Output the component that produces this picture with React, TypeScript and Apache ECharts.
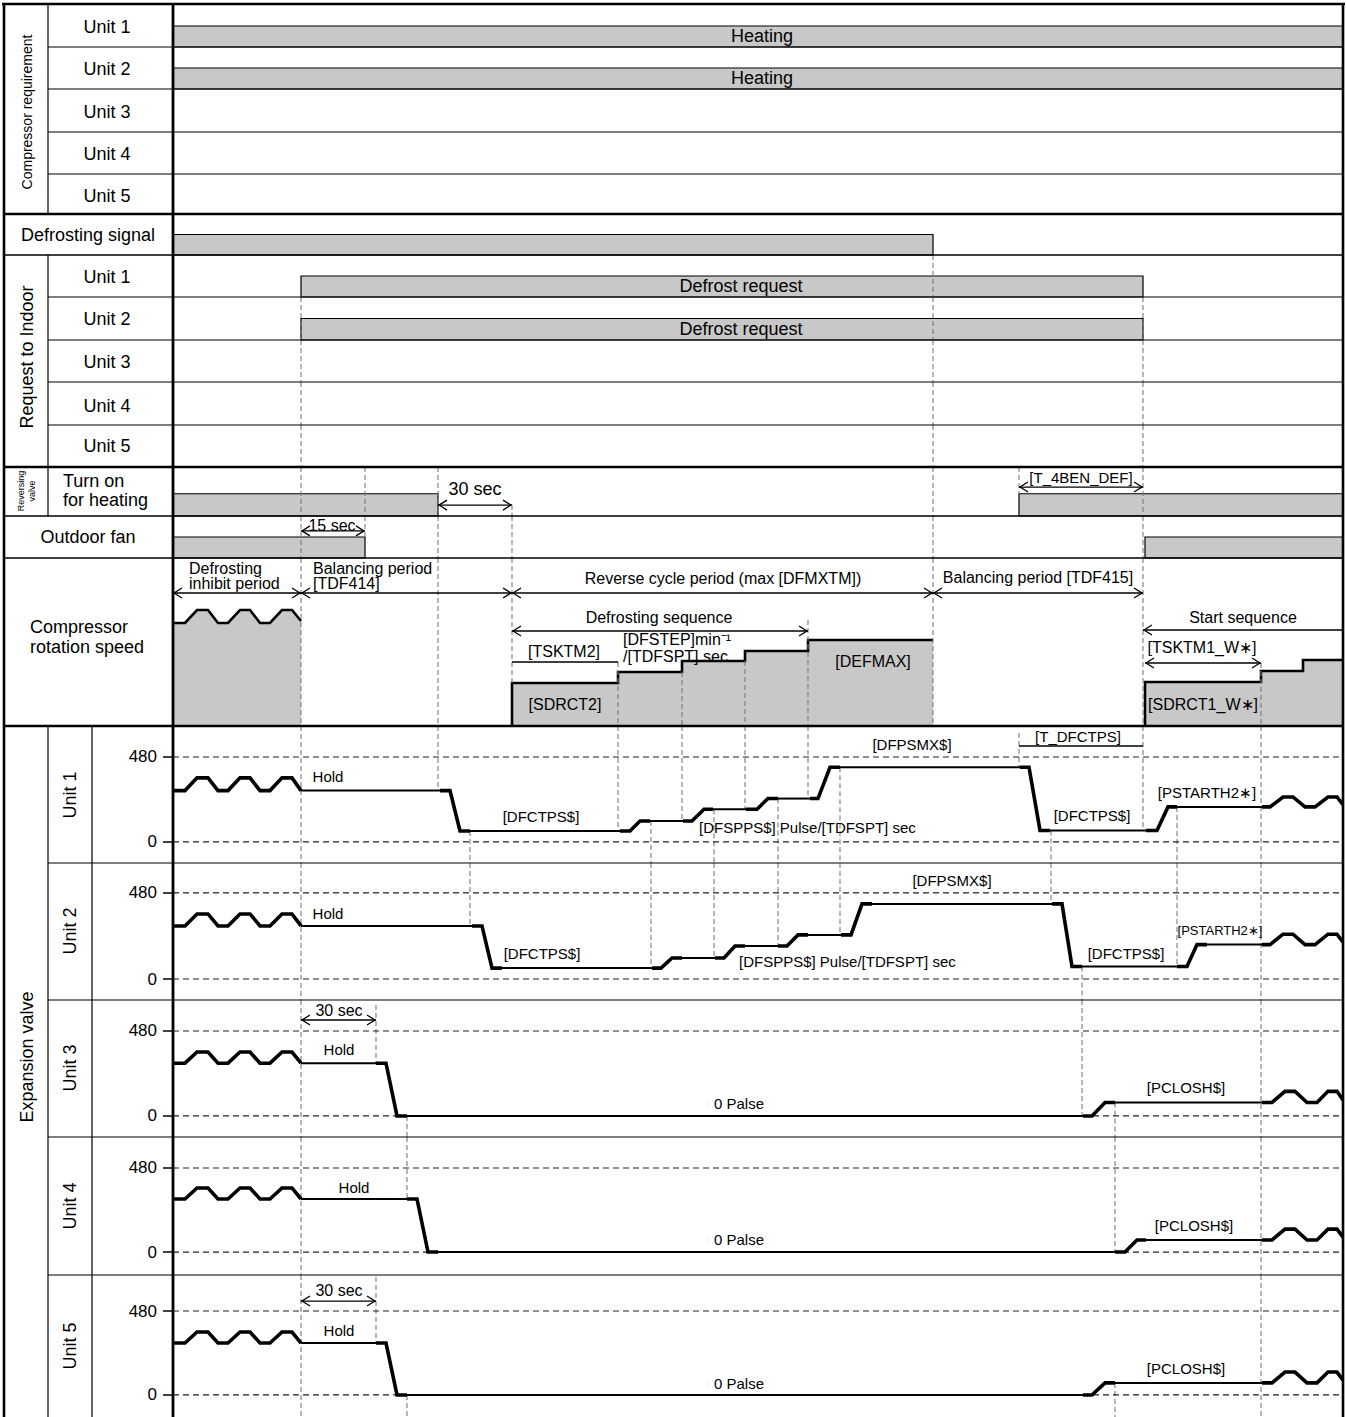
import React, { useEffect, useRef } from "react";
import * as echarts from "echarts";

const W = 1346;
const H = 1417;
const FONT = "'Liberation Sans', Arial, Helvetica, sans-serif";
const T_END = 1170;
const EV_TICKS = [0, 480];
const ON = 1;

// ---------------- on/off signals (start, end) along the common time axis ----------------
const HEATING_UNIT1 = [0, 1170];
const HEATING_UNIT2 = [0, 1170];
const DEFROST_SIGNAL = [0, 760];
const DEFROST_REQUEST_UNIT1 = [128, 970];
const DEFROST_REQUEST_UNIT2 = [128, 970];
const REVERSING_VALVE = [
  [0, 265],
  [846, 1170],
];
const OUTDOOR_FAN = [
  [0, 192],
  [972, 1170],
];

// ---------------- compressor rotation speed (relative units) ----------------
const CS_WAVE_T = [0, 12, 24, 35, 45, 55, 67, 77, 87, 97, 109, 119, 128];
const CS_WAVE_V = [103, 103, 116, 116, 103, 103, 116, 116, 103, 103, 116, 116, 105];
const CS_DEFROST_T = [339, 339, 445, 445, 509, 509, 572, 572, 635, 635, 760];
const CS_DEFROST_V = [0, 43, 43, 54, 54, 65, 65, 75, 75, 86, 86];
const CS_START_T = [972, 972, 1088, 1088, 1130, 1130, 1170];
const CS_START_V = [0, 44, 44, 55, 55, 66, 66];

// ---------------- expansion valve pulses ----------------
const EV1_T = [0, 12, 24, 35, 45, 55, 67, 77, 87, 97, 109, 119, 128, 267, 277, 287, 297, 447, 457, 467, 477, 510, 519, 531, 540, 573, 584, 595, 605, 637, 645, 657, 667, 847, 856, 867, 877, 973, 984, 995, 1004, 1089, 1097, 1110, 1120, 1132, 1142, 1155, 1164, 1170];
const EV1_V = [290, 290, 362, 362, 290, 290, 362, 362, 290, 290, 362, 362, 290, 290, 290, 62, 62, 62, 62, 118, 118, 118, 118, 185, 185, 185, 185, 245, 245, 245, 245, 422, 422, 422, 422, 65, 65, 65, 65, 198, 198, 198, 198, 254, 254, 198, 198, 254, 254, 210];
const EV1_THIN = [12, 16, 20, 24, 28, 32, 36, 40];

const EV2_T = [0, 12, 24, 35, 45, 55, 67, 77, 87, 97, 109, 119, 128, 299, 309, 319, 329, 479, 488, 499, 509, 542, 551, 562, 572, 605, 614, 625, 635, 668, 678, 689, 699, 879, 889, 899, 909, 1004, 1014, 1024, 1034, 1089, 1097, 1110, 1120, 1132, 1142, 1155, 1164, 1170];
const EV2_V = [296, 296, 363, 363, 296, 296, 363, 363, 296, 296, 363, 363, 296, 296, 296, 61, 61, 61, 61, 117, 117, 117, 117, 184, 184, 184, 184, 246, 246, 246, 246, 419, 419, 419, 419, 70, 70, 70, 70, 192, 192, 192, 192, 250, 250, 192, 192, 250, 250, 205];
const EV2_THIN = [12, 16, 20, 24, 28, 32, 36, 40];

const EV3_T = [0, 12, 24, 35, 45, 55, 67, 77, 87, 97, 109, 119, 128, 203, 213, 224, 234, 910, 919, 932, 942, 1089, 1099, 1112, 1122, 1134, 1144, 1155, 1164, 1170];
const EV3_V = [298, 298, 361, 361, 298, 298, 361, 361, 298, 298, 361, 361, 298, 298, 298, 0, 0, 0, 0, 76, 76, 76, 76, 139, 139, 76, 76, 139, 139, 90];
const EV3_THIN = [12, 16, 20];

const EV4_T = [0, 12, 24, 35, 45, 55, 67, 77, 87, 97, 109, 119, 128, 234, 244, 255, 265, 942, 952, 964, 973, 1089, 1099, 1112, 1122, 1134, 1144, 1155, 1164, 1170];
const EV4_V = [303, 303, 366, 366, 303, 303, 366, 366, 303, 303, 366, 366, 303, 303, 303, 0, 0, 0, 0, 69, 69, 69, 69, 131, 131, 69, 69, 131, 131, 85];
const EV4_THIN = [12, 16, 20];

const EV5_T = [0, 12, 24, 35, 45, 55, 67, 77, 87, 97, 109, 119, 128, 203, 213, 224, 234, 910, 919, 932, 942, 1089, 1099, 1112, 1122, 1134, 1144, 1155, 1164, 1170];
const EV5_V = [297, 297, 360, 360, 297, 297, 360, 360, 297, 297, 360, 360, 297, 297, 297, 0, 0, 0, 0, 69, 69, 69, 69, 131, 131, 69, 69, 131, 131, 85];
const EV5_THIN = [12, 16, 20];

// ---------------- vertical guides: [time, fromRow, fromValue, toRow, toValue] ----------------
const GUIDES: [number, string, number | null, string, number | null][] = [
  [128, "RI1", 0, "EV5", null],
  [192, "RV", null, "OF", 1],
  [265, "RV", null, "EV1", 290],
  [339, "RV", 0.5, "CS", 43],
  [297, "EV1", 62, "EV2", 296],
  [445, "CS", 64, "EV1", 62],
  [478, "EV1", 118, "EV2", 61],
  [509, "CS", 54, "EV1", 118],
  [541, "EV1", 185, "EV2", 117],
  [572, "CS", 65, "EV1", 185],
  [605, "EV1", 245, "EV2", 184],
  [635, "CS", 106, "EV1", 245],
  [667, "EV1", 422, "EV2", 246],
  [760, "RI1", null, "CS", null],
  [846, "RV", null, "RV", 1],
  [846, "EV1", 615, "EV1", 422],
  [878, "EV1", 65, "EV2", 419],
  [970, "RI1", 0, "EV1", 65],
  [909, "EV2", 70, "EV3", 0],
  [1004, "EV1", 198, "EV2", 70],
  [942, "EV3", 76, "EV4", 0],
  [1088, "CS", 63, "EV5", null],
  [203, "EV3", 627, "EV3", 298],
  [234, "EV3", 0, "EV4", 303],
  [203, "EV5", 674, "EV5", 297],
  [234, "EV5", 0, "EV5", null],
  [942, "EV5", 69, "EV5", null],
];

// ---------------- annotation texts: [row, time, value, text, align, size] ----------------
const TEXTS: [string, number, number, string, string, number][] = [
  ["CR1", 589, 0.52, "Heating", "center", 18],
  ["CR2", 589, 0.52, "Heating", "center", 18],
  ["RI1", 568, 0.52, "Defrost request", "center", 18],
  ["RI2", 568, 0.51, "Defrost request", "center", 18],
  ["RV", 302, 1.21, "30 sec", "center", 18],
  ["RV", 908, 1.75, "[T_4BEN_DEF]", "center", 15],
  ["OF", 159, 1.57, "15 sec", "center", 16],
  ["CS", 16, 158, "Defrosting", "left", 16],
  ["CS", 16, 143, "inhibit period", "left", 16],
  ["CS", 140, 158, "Balancing period", "left", 16],
  ["CS", 140, 143, "[TDF414]", "left", 16],
  ["CS", 550, 148, "Reverse cycle period (max [DFMXTM])", "center", 16],
  ["CS", 865, 149, "Balancing period [TDF415]", "center", 16],
  ["CS", 486, 109, "Defrosting sequence", "center", 16],
  ["CS", 391, 75, "[TSKTM2]", "center", 16],
  ["CS", 450, 87, "[DFSTEP]min\u207B\u00B9", "left", 16],
  ["CS", 450, 70, "/[TDFSPT] sec", "left", 16],
  ["CS", 392, 22, "[SDRCT2]", "center", 16],
  ["CS", 700, 65, "[DEFMAX]", "center", 16],
  ["CS", 1030, 22, "[SDRCT1_W\u2217]", "center", 16],
  ["CS", 1070, 109, "Start sequence", "center", 16],
  ["CS", 1029, 79, "[TSKTM1_W\u2217]", "center", 16],
  ["EV1", 155, 367, "Hold", "center", 15],
  ["EV1", 368, 141, "[DFCTPS$]", "center", 15],
  ["EV1", 526, 79, "[DFSPPS$] Pulse/[TDFSPT] sec", "left", 15],
  ["EV1", 739, 553, "[DFPSMX$]", "center", 15],
  ["EV1", 905, 593, "[T_DFCTPS]", "center", 15],
  ["EV1", 919, 152, "[DFCTPS$]", "center", 15],
  ["EV1", 1034, 277, "[PSTARTH2\u2217]", "center", 15],
  ["EV2", 155, 368, "Hold", "center", 15],
  ["EV2", 369, 140, "[DFCTPS$]", "center", 15],
  ["EV2", 566, 95, "[DFSPPS$] Pulse/[TDFSPT] sec", "left", 15],
  ["EV2", 779, 547, "[DFPSMX$]", "center", 15],
  ["EV2", 953, 145, "[DFCTPS$]", "center", 15],
  ["EV2", 1047, 268, "[PSTARTH2\u2217]", "center", 13],
  ["EV3", 166, 593, "30 sec", "center", 16],
  ["EV3", 166, 373, "Hold", "center", 15],
  ["EV3", 566, 68, "0 Palse", "center", 15],
  ["EV3", 1013, 158, "[PCLOSH$]", "center", 15],
  ["EV4", 181, 371, "Hold", "center", 15],
  ["EV4", 566, 74, "0 Palse", "center", 15],
  ["EV4", 1021, 149, "[PCLOSH$]", "center", 15],
  ["EV5", 166, 600, "30 sec", "center", 16],
  ["EV5", 166, 371, "Hold", "center", 15],
  ["EV5", 566, 63, "0 Palse", "center", 15],
  ["EV5", 1013, 154, "[PCLOSH$]", "center", 15],
];

// ---------------- annotation arrows: [row, t0, t1, value, heads] ----------------
const ARROWS: [string, number, number, number, string][] = [
  ["RV", 265, 339, 0.49, "both"],
  ["RV", 846, 970, 1.3, "both"],
  ["OF", 128, 192, 1.29, "both"],
  ["CS", 0, 128, 133, "both"],
  ["CS", 128, 339, 133, "both"],
  ["CS", 339, 760, 133, "both"],
  ["CS", 760, 970, 133, "both"],
  ["CS", 339, 635, 95, "both"],
  ["CS", 339, 445, 64, "none"],
  ["CS", 970, 1170, 96, "left"],
  ["CS", 972, 1088, 63, "both"],
  ["EV1", 846, 970, 542, "none"],
  ["EV3", 128, 203, 542, "both"],
  ["EV5", 128, 203, 537, "both"],
];

// ---------------- layout (pixel rows, axis ranges) ----------------
type Row = { key: string; top: number; bottom: number; min: number; max: number; ev?: boolean };
const ROWS: Row[] = [
  { key: "CR1", top: 5, bottom: 47, min: 0, max: 2 },
  { key: "CR2", top: 47, bottom: 89, min: 0, max: 2 },
  { key: "CR3", top: 89, bottom: 132, min: 0, max: 2 },
  { key: "CR4", top: 132, bottom: 174, min: 0, max: 2 },
  { key: "CR5", top: 174, bottom: 214, min: 0, max: 2 },
  { key: "DS", top: 214, bottom: 255, min: 0, max: 2 },
  { key: "RI1", top: 255, bottom: 297, min: 0, max: 2 },
  { key: "RI2", top: 297, bottom: 340, min: 0, max: 2 },
  { key: "RI3", top: 340, bottom: 382, min: 0, max: 2 },
  { key: "RI4", top: 382, bottom: 425, min: 0, max: 2 },
  { key: "RI5", top: 425, bottom: 467, min: 0, max: 2 },
  { key: "RV", top: 467, bottom: 516, min: 0, max: 2.2 },
  { key: "OF", top: 516, bottom: 558, min: 0, max: 2 },
  { key: "CS", top: 558, bottom: 726, min: 0, max: 168 },
  { key: "EV1", top: 726, bottom: 863, min: -119, max: 655, ev: true },
  { key: "EV2", top: 863, bottom: 1000, min: -117, max: 647, ev: true },
  { key: "EV3", top: 1000, bottom: 1137, min: -119, max: 655, ev: true },
  { key: "EV4", top: 1137, bottom: 1275, min: -131, max: 657, ev: true },
  { key: "EV5", top: 1275, bottom: 1417, min: -126, max: 686, ev: true },
];
const GRID_LEFT = 173;
const GRID_WIDTH = 1170;
const BAR_FILL = "#c8c8c8";
const GUIDE_COLOR = "#7a7a7a";
const THIN_W = 2;
const THICK_W = 3.6;

const idx = (k: string) => ROWS.findIndex((r) => r.key === k);
const zip = (t: number[], v: number[]) => t.map((x, i) => [x, v[i]]);

function buildRuns(T: number[], V: number[], thin: number[]) {
  const out: { w: number; pts: number[][] }[] = [];
  let cur: { w: number; pts: number[][] } | null = null;
  for (let i = 0; i < T.length - 1; i++) {
    const w = thin.includes(i) ? THIN_W : THICK_W;
    if (!cur || cur.w !== w) {
      cur = { w, pts: [[T[i], V[i]]] };
      out.push(cur);
    }
    cur.pts.push([T[i + 1], V[i + 1]]);
  }
  return out;
}

function buildOption() {
  const grid = ROWS.map((r) => ({
    left: GRID_LEFT,
    width: GRID_WIDTH,
    top: r.top,
    height: r.bottom - r.top,
    containLabel: false,
    outerBoundsMode: "none",
  }));
  const xAxis = ROWS.map((r, i) => ({ type: "value", gridIndex: i, min: 0, max: T_END, show: false }));
  const yAxis = ROWS.map((r, i) =>
    r.ev
      ? {
          type: "value",
          gridIndex: i,
          min: r.min,
          max: r.max,
          axisLine: { show: false },
          axisTick: { show: true, customValues: EV_TICKS, length: 10, lineStyle: { color: "#000", width: 1.5 } },
          axisLabel: { show: true, customValues: EV_TICKS, color: "#000", fontSize: 17, fontFamily: FONT, margin: 16 },
          splitLine: { show: false },
        }
      : { type: "value", gridIndex: i, min: r.min, max: r.max, show: false, splitLine: { show: false } }
  );

  const series: any[] = [];

  // bars
  const barRows: [string, number[][]][] = [
    ["CR1", [HEATING_UNIT1]],
    ["CR2", [HEATING_UNIT2]],
    ["DS", [DEFROST_SIGNAL]],
    ["RI1", [DEFROST_REQUEST_UNIT1]],
    ["RI2", [DEFROST_REQUEST_UNIT2]],
    ["RV", REVERSING_VALVE],
    ["OF", OUTDOOR_FAN],
  ];
  barRows.forEach(([key, spans]) => {
    const gi = idx(key);
    series.push({
      type: "custom",
      xAxisIndex: gi,
      yAxisIndex: gi,
      z: 2,
      silent: true,
      clip: false,
      data: spans.map((s) => [s[0], s[1], ON]),
      encode: { x: [0, 1], y: 2 },
      renderItem: (params: any, api: any) => {
        const p0 = api.coord([api.value(0), 0]);
        const p1 = api.coord([api.value(1), api.value(2)]);
        return {
          type: "rect",
          shape: { x: p0[0], y: p1[1], width: p1[0] - p0[0], height: p0[1] - p1[1] },
          style: { fill: BAR_FILL, stroke: "#000", lineWidth: 1.2 },
        };
      },
    });
  });

  // compressor rotation speed
  const cs = idx("CS");
  [zip(CS_WAVE_T, CS_WAVE_V), zip(CS_DEFROST_T, CS_DEFROST_V), zip(CS_START_T, CS_START_V)].forEach((d) => {
    series.push({
      type: "line",
      xAxisIndex: cs,
      yAxisIndex: cs,
      data: d,
      symbol: "none",
      silent: true,
      z: 2,
      lineStyle: { color: "#000", width: 2.6, join: "miter" },
      areaStyle: { color: BAR_FILL, opacity: 1 },
    });
  });

  // expansion valve levels + waveforms
  const evs: [string, number[], number[], number[]][] = [
    ["EV1", EV1_T, EV1_V, EV1_THIN],
    ["EV2", EV2_T, EV2_V, EV2_THIN],
    ["EV3", EV3_T, EV3_V, EV3_THIN],
    ["EV4", EV4_T, EV4_V, EV4_THIN],
    ["EV5", EV5_T, EV5_V, EV5_THIN],
  ];
  evs.forEach(([key, T, V, thin]) => {
    const gi = idx(key);
    EV_TICKS.forEach((lv) => {
      series.push({
        type: "line",
        xAxisIndex: gi,
        yAxisIndex: gi,
        data: [
          [0, lv],
          [T_END, lv],
        ],
        symbol: "none",
        silent: true,
        z: 3,
        lineStyle: { color: "#222", width: 1.2, type: [6, 4] },
      });
    });
    const runs = buildRuns(T, V, thin);
    series.push({
      type: "custom",
      xAxisIndex: gi,
      yAxisIndex: gi,
      z: 5,
      silent: true,
      clip: false,
      data: runs.map((r, k) => [r.pts[0][0], r.pts[0][1], k]),
      encode: { x: 0, y: 1 },
      renderItem: (params: any, api: any) => {
        const r = runs[params.dataIndex];
        return {
          type: "polyline",
          shape: { points: r.pts.map((p) => api.coord(p)) },
          style: { stroke: "#000", fill: "none", lineWidth: r.w, lineJoin: "miter", lineCap: "butt" },
        };
      },
    });
  });

  // guides split per row
  const guideSegs: Record<string, number[][]> = {};
  GUIDES.forEach(([t, fr, fv, tr, tv]) => {
    const a = idx(fr);
    const b = idx(tr);
    for (let k = a; k <= b; k++) {
      const row = ROWS[k];
      const v1 = k === a && fv !== null ? fv : row.max;
      const v2 = k === b && tv !== null ? tv : row.min;
      (guideSegs[row.key] = guideSegs[row.key] || []).push([t, v1, v2]);
    }
  });
  Object.keys(guideSegs).forEach((key) => {
    const gi = idx(key);
    series.push({
      type: "custom",
      xAxisIndex: gi,
      yAxisIndex: gi,
      z: 3,
      silent: true,
      clip: false,
      data: guideSegs[key],
      encode: { x: 0, y: [1, 2] },
      renderItem: (params: any, api: any) => {
        const p1 = api.coord([api.value(0), api.value(1)]);
        const p2 = api.coord([api.value(0), api.value(2)]);
        return {
          type: "line",
          shape: { x1: p1[0], y1: p1[1], x2: p2[0], y2: p2[1] },
          style: { stroke: GUIDE_COLOR, lineWidth: 1.1, lineDash: [5, 3] },
        };
      },
    });
  });

  // annotations
  ROWS.forEach((row, gi) => {
    const texts = TEXTS.filter((a) => a[0] === row.key);
    const arrows = ARROWS.filter((a) => a[0] === row.key);
    if (texts.length) {
      series.push({
        type: "custom",
        xAxisIndex: gi,
        yAxisIndex: gi,
        z: 6,
        silent: true,
        clip: false,
        data: texts.map((a) => [a[1], a[2]]),
        encode: { x: 0, y: 1 },
        renderItem: (params: any, api: any) => {
          const a = texts[params.dataIndex];
          const p = api.coord([a[1], a[2]]);
          return {
            type: "text",
            x: p[0],
            y: p[1],
            style: {
              text: a[3],
              font: `${a[5]}px ${FONT}`,
              fill: "#000",
              align: a[4],
              verticalAlign: "middle",
            },
          };
        },
      });
    }
    if (arrows.length) {
      series.push({
        type: "custom",
        xAxisIndex: gi,
        yAxisIndex: gi,
        z: 6,
        silent: true,
        clip: false,
        data: arrows.map((a) => [a[1], a[3], a[2]]),
        encode: { x: [0, 2], y: 1 },
        renderItem: (params: any, api: any) => {
          const a = arrows[params.dataIndex];
          const p0 = api.coord([a[1], a[3]]);
          const p1 = api.coord([a[2], a[3]]);
          const st = { stroke: "#000", fill: "none", lineWidth: 1.3 };
          const children: any[] = [
            { type: "line", shape: { x1: p0[0], y1: p0[1], x2: p1[0], y2: p1[1] }, style: st },
          ];
          if (a[4] === "both" || a[4] === "left") {
            children.push({
              type: "polyline",
              shape: { points: [[p0[0] + 9, p0[1] - 5], [p0[0] + 1, p0[1]], [p0[0] + 9, p0[1] + 5]] },
              style: st,
            });
          }
          if (a[4] === "both" || a[4] === "right") {
            children.push({
              type: "polyline",
              shape: { points: [[p1[0] - 9, p1[1] - 5], [p1[0] - 1, p1[1]], [p1[0] - 9, p1[1] + 5]] },
              style: st,
            });
          }
          return { type: "group", children };
        },
      });
    }
  });

  // table frame and row headers
  const g: any[] = [];
  const L = (x1: number, y1: number, x2: number, y2: number, w: number) =>
    g.push({ type: "line", z: 20, silent: true, shape: { x1, y1, x2, y2 }, style: { stroke: "#000", lineWidth: w } });
  const T = (x: number, y: number, text: string, size: number, align = "center", rot = 0, lh?: number) =>
    g.push({
      type: "text",
      z: 20,
      silent: true,
      x,
      y,
      rotation: rot,
      style: {
        text,
        font: `${size}px ${FONT}`,
        fill: "#000",
        align,
        verticalAlign: "middle",
        lineHeight: lh,
      },
    });
  // thick
  L(2, 4, 1345, 4, 2.6);
  L(4, 3, 4, 1417, 2.6);
  L(1343, 3, 1343, 1417, 2.6);
  L(173, 3, 173, 1417, 2.8);
  [214, 467, 726].forEach((y) => L(3, y, 1344, y, 2.6));
  // medium
  [255, 516, 558].forEach((y) => L(3, y, 1344, y, 1.5));
  // thin
  [47, 89, 132, 174, 297, 340, 382, 425, 863, 1000, 1137, 1275].forEach((y) => L(48, y, 1343, y, 1.2));
  L(48, 5, 48, 214, 1.2);
  L(48, 255, 48, 516, 1.2);
  L(48, 726, 48, 1417, 1.2);
  L(92, 726, 92, 1417, 1.2);

  const R = -Math.PI / 2 * -1;
  T(27, 112, "Compressor requirement", 14, "center", R);
  ["Unit 1", "Unit 2", "Unit 3", "Unit 4", "Unit 5"].forEach((u, i) => {
    T(107, [27, 69, 112, 154, 196][i], u, 18);
    T(107, [277, 319, 362, 406, 446][i], u, 18);
    T(70, [795, 931, 1068, 1206, 1346][i], u, 18, "center", R);
  });
  T(88, 235, "Defrosting signal", 18);
  T(27, 357, "Request to Indoor", 18, "center", R);
  T(26, 491, "Reversing\nvalve", 9, "center", R, 11);
  T(63, 481, "Turn on", 18, "left");
  T(63, 500, "for heating", 18, "left");
  T(88, 537, "Outdoor fan", 18);
  T(30, 627, "Compressor", 18, "left");
  T(30, 647, "rotation speed", 18, "left");
  T(27, 1057, "Expansion valve", 18, "center", R);

  return {
    animation: false,
    backgroundColor: "#fff",
    grid,
    xAxis,
    yAxis,
    series,
    graphic: { elements: g },
  };
}

export default function App() {
  const ref = useRef<HTMLDivElement>(null);
  useEffect(() => {
    const el = ref.current as HTMLDivElement;
    const chart = echarts.init(el, null, { renderer: "svg" });
    chart.setOption(buildOption() as any);
    return () => chart.dispose();
  }, []);
  return (
    <div
      ref={ref}
      style={{ position: "absolute", left: 0, top: 0, width: W, height: H, background: "#fff" }}
    />
  );
}
